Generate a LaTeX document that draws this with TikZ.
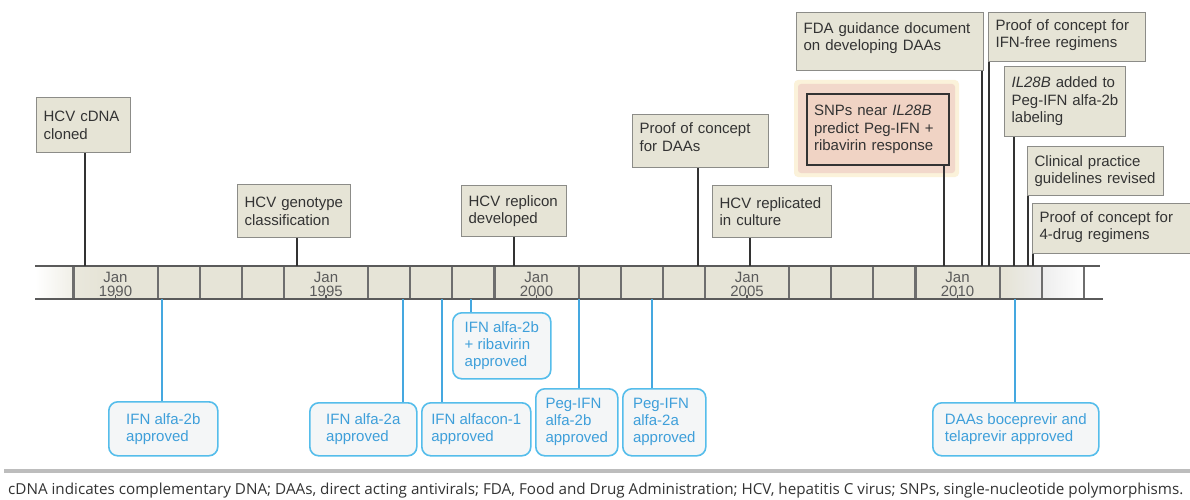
\documentclass[tikz,border=0pt]{standalone}
\usepackage{fontspec}
\setmainfont{Liberation Sans}
\newfontfamily\capfont{Open Sans}
\usetikzlibrary{calc}
\definecolor{boxfill}{HTML}{E6E4D6}
\definecolor{boxline}{HTML}{8C8C88}
\definecolor{txtdark}{HTML}{333333}
\definecolor{axisline}{HTML}{5A5A5A}
\definecolor{sepline}{HTML}{6E6E6E}
\definecolor{cellfill}{HTML}{E6E4D7}
\definecolor{bluefill}{HTML}{F4F6F7}
\definecolor{blueline}{HTML}{55BDEB}
\definecolor{bluecon}{HTML}{45A8E0}
\definecolor{bluetxt}{HTML}{3E9FDA}
\definecolor{snpfill}{HTML}{F0D3C4}
\definecolor{glowfill}{HTML}{F2D8CB}
\definecolor{glowedge}{HTML}{FBF2DA}
\definecolor{rulegray}{HTML}{BDBDBD}
\definecolor{capgray}{HTML}{333333}
\newcommand\TopBox[7][]{\node[topbox,#1,minimum width={(#5-#3)*1pt},minimum height={(#6-#4)*1pt},text width={(#5-#3-14)*1pt}] (#2) at (#3,#4) {#7};}
\newcommand\BotBox[6]{\node[botbox,minimum width={(#4-#2)*1pt},minimum height={(#5-#3)*1pt}] (#1) at (#2,#3) {#6};}
\begin{document}
\begin{tikzpicture}[x=1pt,y=-1pt,
  topbox/.style={draw=boxline,fill=boxfill,line width=1.2pt,text=txtdark,align=left,inner xsep=7pt,inner ysep=0pt,anchor=north west,font=\fontsize{15}{17.5}\selectfont},
  botbox/.style={draw=blueline,fill=bluefill,line width=1.6pt,rounded corners=9pt,text=bluetxt,align=left,inner sep=0pt,anchor=north west,font=\fontsize{15}{17}\selectfont},
  tconn/.style={draw=txtdark,line width=2pt},
  bconn/.style={draw=bluecon,line width=2pt},
  axis/.style={draw=axisline,line width=2pt},
  sepl/.style={draw=sepline,line width=2.2pt},
  yearlab/.style={text=axisline,align=center,font=\fontsize{15}{14}\selectfont,inner sep=0pt}
]
\clip (0,0) rectangle (1190,500);
\fill[white] (0,0) rectangle (1190,500);

% ---- timeline bar
\fill[cellfill] (73,266) rectangle (1005,299);
\shade[left color=white,right color=cellfill!60!white] (35,266) rectangle (73,299);
\shade[left color=cellfill!85!white,right color=cellfill] (73,266) rectangle (100,299);
\shade[left color=cellfill,right color=gray!14] (1005,266) rectangle (1043,299);
\shade[left color=gray!14,right color=white] (1043,266) rectangle (1085,299);
\foreach \j in {-1,1,2,3,4,6,7,8,9,11,12,13,14,16,17,18,19,21,22,23}
  \draw[sepl] ({115.5+42.1*\j},266) -- ({115.5+42.1*\j},299);
\foreach \k in {0,...,4}
  \draw[axisline,line width=1.2pt] ({115.5+210.5*\k},295) -- ({115.5+210.5*\k},299);
\draw[axis] (35,266) -- (1100,266);
\draw[axis] (35,299) -- (1103,299);
\foreach \y [count=\k from 0] in {1990,1995,2000,2005,2010}
  \node[yearlab] (jan\y) at ({115.5+210.5*\k},284) {Jan\\\y};

% ---- anchor points on the timeline
\coordinate (ta) at (85,266);
\coordinate (tb) at (297,266);
\coordinate (tc) at (514,266);
\coordinate (td) at (698,266);
\coordinate (te) at (750,266);
\coordinate (tf) at (944,266);
\coordinate (tg) at (982,266);
\coordinate (th) at (989,266);
\coordinate (ti) at (1014,266);
\coordinate (tj) at (1028,266);
\coordinate (tk) at (1033,266);
\coordinate (ua) at (162,299);
\coordinate (ub) at (403,299);
\coordinate (uc) at (442,299);
\coordinate (ud) at (471,299);
\coordinate (ue) at (579,299);
\coordinate (uf) at (652,299);
\coordinate (ug) at (1015,299);

% ---- top events
\TopBox{b1}{36}{97}{130}{152}{HCV cDNA\\cloned}
\TopBox{b2}{237}{184}{350}{237}{HCV genotype\\classification}
\TopBox{b3}{461}{185}{566}{236}{HCV replicon\\developed}
\TopBox{b4}{632}{114}{768}{167}{Proof of concept\\for DAAs\\[-9pt]\mbox{}}
\TopBox{b5}{712}{185}{831}{237}{HCV replicated\\in culture}
\fill[glowedge, rounded corners=4pt] (794,80) rectangle (959,177);
\fill[glowfill, rounded corners=3pt] (798,84) rectangle (955,173);
\TopBox[fill=snpfill,draw=txtdark,line width=2pt]{b6}{806}{93}{948}{164}{SNPs near \textit{IL28B}\\predict Peg-IFN +\\ribavirin response}
\TopBox{b7}{796}{12}{983}{70}{FDA guidance document\\on developing DAAs\\[-7.5pt]\mbox{}}
\TopBox{b8}{988}{12}{1145}{61}{Proof of concept for\\IFN-free regimens\\[-10pt]\mbox{}}
\TopBox{b9}{1004}{66}{1125}{136}{\textit{IL28B} added to\\Peg-IFN alfa-2b\\labeling}
\TopBox{b10}{1027}{146}{1163}{195}{Clinical practice\\guidelines revised}
\TopBox{b11}{1032}{203}{1196}{253}{Proof of concept for\\4-drug regimens\\[-11pt]\mbox{}}

\draw[tconn] (ta |- b1.south) -- (ta);
\draw[tconn] (tb |- b2.south) -- (tb);
\draw[tconn] (tc |- b3.south) -- (tc);
\draw[tconn] (td |- b4.south) -- (td);
\draw[tconn] (te |- b5.south) -- (te);
\draw[tconn] (tf |- b6.south) -- (tf);
\draw[tconn] (tg |- b7.south) -- (tg);
\draw[tconn] (th |- b8.south) -- (th);
\draw[tconn] (ti |- b9.south) -- (ti);
\draw[tconn] (tj |- b10.south) -- (tj);
\draw[tconn] (tk |- b11.south) -- (tk);

% ---- bottom events
\BotBox{c1}{108}{401}{217}{455}{IFN alfa-2b\\approved}
\BotBox{c2}{309}{402}{416}{455}{IFN alfa-2a\\approved}
\BotBox{c3}{421}{402}{530}{455}{IFN alfacon-1\\approved}
\BotBox{c4}{452}{312}{550}{378}{IFN alfa-2b\\+ ribavirin\\approved}
\BotBox{c5}{535}{388}{617}{455}{Peg-IFN\\alfa-2b\\approved}
\BotBox{c6}{622}{388}{705}{455}{Peg-IFN\\alfa-2a\\approved}
\BotBox{c7}{932}{402}{1098}{455}{DAAs boceprevir and\\telaprevir approved}

\draw[bconn] (ua) -- (ua |- c1.north);
\draw[bconn] (ub) -- (ub |- c2.north);
\draw[bconn] (uc) -- (uc |- c3.north);
\draw[bconn] (ud) -- (ud |- c4.north);
\draw[bconn] (ue) -- (ue |- c5.north);
\draw[bconn] (uf) -- (uf |- c6.north);
\draw[bconn] (ug) -- (ug |- c7.north);

% ---- caption
\draw[rulegray,line width=4pt] (4,471) -- (1190,471);
\node[anchor=base west,inner sep=0pt,text=capgray] (cap) at (8,494)
  {\resizebox{1175pt}{11.5pt}{\capfont\fontsize{12}{14}\selectfont cDNA indicates complementary DNA; DAAs, direct acting antivirals; FDA, Food and Drug Administration; HCV, hepatitis C virus; SNPs, single-nucleotide polymorphisms.}};
\end{tikzpicture}
\end{document}
